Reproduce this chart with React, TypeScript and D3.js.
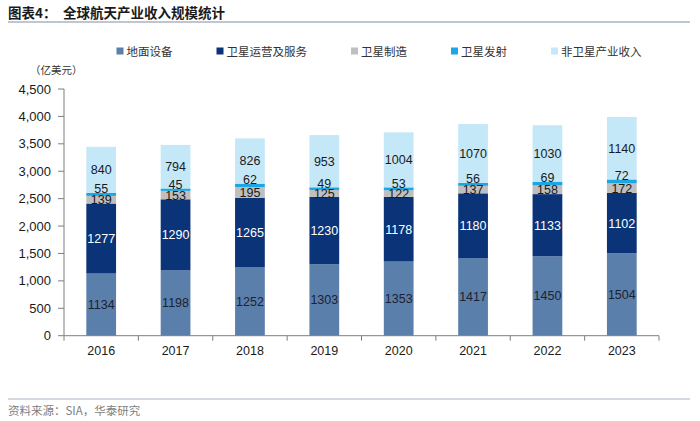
import React from "react";
import * as d3 from "d3";

const years = ["2016", "2017", "2018", "2019", "2020", "2021", "2022", "2023"];
const groundEquipment = [1134, 1198, 1252, 1303, 1353, 1417, 1450, 1504];
const satServices = [1277, 1290, 1265, 1230, 1178, 1180, 1133, 1102];
const satManufacturing = [139, 153, 195, 125, 122, 137, 158, 172];
const launch = [55, 45, 62, 49, 53, 56, 69, 72];
const nonSatellite = [840, 794, 826, 953, 1004, 1070, 1030, 1140];
const seriesNames = ["地面设备", "卫星运营及服务", "卫星制造", "卫星发射", "非卫星产业收入"];
const yTicks = [0, 500, 1000, 1500, 2000, 2500, 3000, 3500, 4000, 4500];

const colors = ["#5b7fab", "#0b3478", "#bfbfbf", "#1ba8e2", "#c5e8f9"];
const labelColors = ["#1c2230", "#ffffff", "#1a1a1a", "#1a1a1a", "#1a1a1a"];

const W = 700;
const H = 421;
const left = 64;
const right = 659;
const top = 89;
const bottom = 335.7;

const latin = "'Liberation Sans', Arial, sans-serif";
const cjk = "'Noto Sans CJK SC', 'Noto Sans', sans-serif";

export default function App() {
  const seriesData = [groundEquipment, satServices, satManufacturing, launch, nonSatellite];
  const rows = years.map((y, i) => {
    const r: any = { year: y };
    seriesNames.forEach((n, k) => (r[n] = seriesData[k][i]));
    return r;
  });
  const stack = d3.stack<any>().keys(seriesNames)(rows);

  const x = d3.scaleBand<string>().domain(years).range([left, right]).paddingInner(0.6).paddingOuter(0.3);
  const xStep = d3.scaleBand<string>().domain(years).range([left, right]);
  const y = d3.scaleLinear().domain([0, 4500]).range([bottom, top]);
  const fmt = d3.format(",");

  // legend layout
  const legendFont = 11.5;
  let lx = 116.5;
  const legendItems = seriesNames.map((n, k) => {
    const item = { n, k, x: lx };
    lx += 7 + 3 + n.length * legendFont + 44;
    return item;
  });

  const axisColor = "#7f7f7f";

  return (
    <svg width={W} height={H} style={{ position: "absolute", left: 0, top: 0 }}>
      <rect width={W} height={H} fill="#ffffff" />
      {/* title */}
      <text x={8} y={18} fontFamily={cjk} fontWeight="bold" fontSize={13.5} fill="#1a1a1a">
        图表4：
      </text>
      <text x={63} y={18} fontFamily={cjk} fontWeight="bold" fontSize={13.5} fill="#1a1a1a">
        全球航天产业收入规模统计
      </text>
      <line x1={8} x2={690} y1={22} y2={22} stroke="#a9b3c2" strokeWidth={1.5} />

      {/* legend */}
      {legendItems.map((it) => (
        <g key={it.n}>
          <rect x={it.x} y={47.5} width={7} height={7} fill={colors[it.k]} />
          <text x={it.x + 10} y={55.5} fontFamily={cjk} fontSize={legendFont} fill="#333333">
            {it.n}
          </text>
        </g>
      ))}

      {/* unit */}
      <text x={30} y={74} fontFamily={cjk} fontSize={10.5} fill="#333333">
        （亿美元）
      </text>

      {/* y axis */}
      <line x1={left} x2={left} y1={top} y2={bottom} stroke={axisColor} strokeWidth={1} />
      {yTicks.map((t) => (
        <g key={t}>
          <line x1={left - 6} x2={left} y1={y(t)} y2={y(t)} stroke={axisColor} strokeWidth={1} />
          <text
            x={51}
            y={y(t)}
            dy="0.35em"
            textAnchor="end"
            fontFamily={latin}
            fontSize={13}
            fill="#1a1a1a"
          >
            {fmt(t)}
          </text>
        </g>
      ))}

      {/* bars */}
      {stack.map((s, k) => (
        <g key={seriesNames[k]}>
          {s.map((d: any) => (
            <rect
              key={d.data.year}
              x={x(d.data.year)}
              y={y(d[1])}
              width={x.bandwidth()}
              height={y(d[0]) - y(d[1])}
              fill={colors[k]}
            />
          ))}
        </g>
      ))}

      {/* labels */}
      {stack.map((s, k) => (
        <g key={"l" + seriesNames[k]}>
          {s.map((d: any) => {
            const cx = (x(d.data.year) as number) + x.bandwidth() / 2;
            const cy = k === 3 ? y(d[1]) - 4 : (y(d[0]) + y(d[1])) / 2;
            return (
              <text
                key={d.data.year}
                x={cx}
                y={cy}
                dy="0.36em"
                textAnchor="middle"
                fontFamily={latin}
                fontSize={12.5}
                fill={labelColors[k]}
              >
                {d[1] - d[0]}
              </text>
            );
          })}
        </g>
      ))}

      {/* x axis */}
      <line x1={left} x2={right} y1={bottom} y2={bottom} stroke={axisColor} strokeWidth={1} />
      {[...years.map((yr) => xStep(yr) as number), right].map((t, i) => (
        <line key={i} x1={t} x2={t} y1={bottom} y2={bottom + 5} stroke={axisColor} strokeWidth={1} />
      ))}
      {years.map((yr) => (
        <text
          key={yr}
          x={(x(yr) as number) + x.bandwidth() / 2}
          y={351}
          dy="0.35em"
          textAnchor="middle"
          fontFamily={latin}
          fontSize={12.5}
          fill="#1a1a1a"
        >
          {yr}
        </text>
      ))}

      {/* footer */}
      <line x1={8} x2={690} y1={399} y2={399} stroke="#a9b3c2" strokeWidth={1} />
      <text x={8} y={415} fontFamily={cjk} fontSize={11.5} fill="#7f7f7f">
        资料来源：SIA，华泰研究
      </text>
    </svg>
  );
}
